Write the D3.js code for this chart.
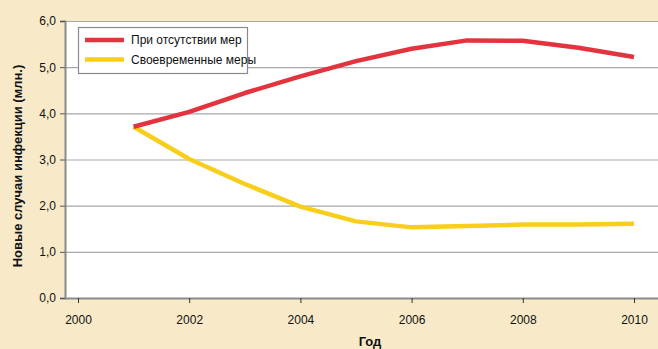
<!DOCTYPE html>
<html><head><meta charset="utf-8">
<script src="https://cdn.jsdelivr.net/npm/d3@7"></script>
<style>
html,body{margin:0;padding:0;background:#F8EAC8;}
svg{display:block;}
text{font-family:"Liberation Sans Narrow","Arial Narrow","Liberation Sans",Arial,sans-serif;}
</style></head>
<body>
<svg id="c" width="658" height="349"></svg>
<script>
const years = [2001,2002,2003,2004,2005,2006,2007,2008,2009,2010];
const noMeasures = [3.71,4.03,4.44,4.80,5.13,5.40,5.58,5.57,5.42,5.22];
const timelyMeasures = [3.71,3.01,2.47,1.98,1.66,1.53,1.56,1.59,1.59,1.61];
const seriesNames = ["При отсутствии мер","Своевременные меры"];
const xTicks = [2000,2002,2004,2006,2008,2010];
const yTicks = [0,1,2,3,4,5,6];
const xTitle = "Год";
const yTitle = "Новые случаи инфекции (млн.)";

(function(){
const svg = d3.select("#c");
const W = 658, H = 349;
const pL = 65, pR = 658, pT = 21, pB = 298;
const x = d3.scaleLinear().domain([2000,2010]).range([78,634]);
const y = d3.scaleLinear().domain([0,6]).range([pB, pT]);

svg.append("rect").attr("width",W).attr("height",H).attr("fill","#F8EAC8");
svg.append("rect").attr("x",pL).attr("y",pT).attr("width",pR-pL).attr("height",pB-pT).attr("fill","#fff");

// gridlines
svg.append("g").selectAll("line").data(yTicks.filter(d=>d>0)).join("line")
  .attr("x1",pL).attr("x2",pR).attr("y1",d=>y(d)+0.5).attr("y2",d=>y(d)+0.5)
  .attr("stroke","#a8a8a8").attr("stroke-width",1.2);

// y axis
const yAxis = svg.append("g").attr("transform",`translate(${pL},0)`)
  .call(d3.axisLeft(y).tickValues(yTicks).tickSize(5).tickPadding(4)
    .tickFormat(d=>d3.format(".1f")(d).replace(".",",")));
yAxis.select(".domain").attr("stroke","#8a8a8a").attr("stroke-width",2);
yAxis.selectAll(".tick line").attr("stroke","#555");
yAxis.selectAll("text").attr("font-size",12).attr("fill","#111")
  .attr("font-family",'"Liberation Sans Narrow","Arial Narrow",Arial,sans-serif');

// x axis
const xAxis = svg.append("g").attr("transform",`translate(0,${pB})`)
  .call(d3.axisBottom(x).tickValues(xTicks).tickSize(5).tickPadding(12).tickFormat(d3.format("d")));
xAxis.select(".domain").attr("d",`M${pL},0.5H${pR}`).attr("stroke","#8a8a8a").attr("stroke-width",2);
xAxis.selectAll(".tick line").attr("stroke","#333");
xAxis.selectAll("text").attr("font-size",12).attr("fill","#111")
  .attr("font-family",'"Liberation Sans Narrow","Arial Narrow",Arial,sans-serif');

// lines
const line = d3.line().x((d,i)=>x(years[i])).y(d=>y(d));
const colors = ["#E2343E","#F9CE1A"];
[timelyMeasures, noMeasures].forEach((s,k)=>{
  const idx = 1-k;
  svg.append("path").datum(s).attr("d",line).attr("fill","none")
    .attr("stroke",colors[idx]).attr("stroke-width",4.5).attr("stroke-linejoin","round");
});

// legend
const lg = svg.append("g");
lg.append("rect").attr("x",78.5).attr("y",27.5).attr("width",169).attr("height",46)
  .attr("fill","#fff").attr("stroke","#8a8a8a").attr("stroke-width",1.2);
seriesNames.forEach((n,i)=>{
  const yy = 40 + i*19.5;
  lg.append("line").attr("x1",85).attr("x2",124).attr("y1",yy).attr("y2",yy)
    .attr("stroke",colors[i]).attr("stroke-width",4.5);
  lg.append("text").attr("x",131).attr("y",yy+4).attr("font-size",12).attr("fill","#111").text(n);
});

// titles
svg.append("text").attr("x",370).attr("y",346).attr("text-anchor","middle")
  .attr("font-size",13).attr("font-weight","bold").attr("fill","#111")
  .attr("font-family",'"Liberation Sans",Arial,sans-serif').text(xTitle);
svg.append("text").attr("transform","translate(22,166) rotate(-90)").attr("text-anchor","middle")
  .attr("font-size",13).attr("font-weight","bold").attr("fill","#111")
  .attr("font-family",'"Liberation Sans",Arial,sans-serif').text(yTitle);
})();
</script>
</body></html>
